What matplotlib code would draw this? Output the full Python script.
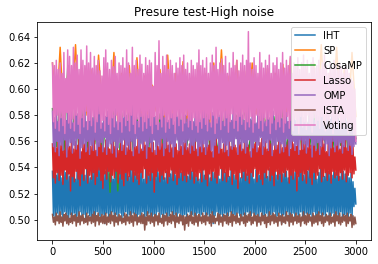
import numpy as np
import matplotlib
matplotlib.use("Agg")
import matplotlib.pyplot as plt

# 각 알고리즘 결과 (단위: 0.001), 0~2999 구간을 고르게 샘플링한 봉우리/골 값
ITERATIONS = 2999

IHT = [537,503, 541,501, 534,505, 545,502, 538,504, 532,500, 543,506, 536,503, 540,501, 533,504,
       544,502, 538,505, 531,500, 542,503, 536,506, 539,502, 546,504, 534,501, 540,505, 537,503,
       532,500, 543,504, 538,502, 535,506, 541,503, 546,501, 533,504, 539,497, 537,505, 542,502,
       535,503, 540,506, 531,501, 544,504, 538,502, 536,505, 541,500, 534,503, 539,506, 545,502,
       533,504, 538,501, 542,505, 536,503, 540,500, 534,504, 543,502, 537,506, 531,501, 539,503,
       544,505, 535,502, 540,500, 538,504, 533,503, 541,506, 536,501, 545,504, 539,502, 532,505,
       537,500, 542,503, 535,506, 540,502, 544,504, 534,501, 538,505, 541,503, 536,500, 543,504,
       539,502, 533,506, 540,501, 537,504, 542,503, 535,500, 538,505, 531,502, 536,504, 541,506,
       534,501, 545,504, 538,502, 532,505, 540,497, 536,503, 543,506, 537,501, 531,504, 539,502,
       542,505, 536,500, 540,503, 533,506, 545,502, 538,504, 534,501, 541,505, 537,503, 532,500,
       539,504, 544,502, 535,506, 540,501, 536,503, 543,505, 531,500, 538,504, 546,502, 534,506,
       540,501, 537,503, 542,505, 533,500, 539,504, 545,502, 536,506, 541,501, 534,503, 538,505,
       543,497, 535,504, 540,502, 537,506, 532,501, 544,503, 538,505, 536,500, 541,504, 533,502,
       539,506, 546,501, 534,503, 540,505, 537,500, 542,504, 535,502, 538,506, 544,501, 531,503,
       536,505, 541,500, 538,504, 533,502, 545,506, 537,501, 540,503, 534,505, 542,500, 536,504,
       539,502, 533,506, 541,501, 537,504, 535,503, 540,500, 532,505, 536,502, 529,510, 524,512]

SP = [620,578, 632,574, 612,582, 634,576, 608,580, 615,573, 626,584, 610,577, 628,575, 612,581,
      618,574, 624,579, 610,576, 603,583, 615,572, 626,578, 612,580, 621,575, 608,582, 618,577,
      612,574, 620,579, 630,576, 610,583, 622,573, 614,578, 620,581, 608,575, 616,579, 612,574,
      619,580, 624,576, 610,582, 615,573, 620,578, 634,575, 612,581, 632,577, 615,574, 628,579]

COSAMP = [585,556, 592,552, 618,560, 590,549, 584,555, 580,558, 587,550, 579,521, 586,522, 582,557,
          588,553, 578,559, 585,551, 590,556, 581,548, 576,560, 589,554, 583,557, 579,552, 586,561,
          582,555, 577,550, 588,558, 584,553, 580,562, 587,549, 576,556, 590,564, 583,551, 579,557,
          585,553, 581,560, 588,550, 578,556, 586,552, 582,559, 577,554, 589,557, 584,551, 580,562]

LASSO = [558,532, 562,528, 555,536, 564,530, 557,534, 561,527, 553,538, 566,531, 559,535, 556,522,
         563,533, 554,529, 560,537, 557,531, 565,526, 552,535, 561,530, 558,539, 555,528, 563,534,
         556,531, 560,536, 564,527, 553,533, 559,538, 562,530, 557,524, 555,535, 561,531, 566,537,
         554,529, 558,534, 563,532, 556,537, 560,528, 553,535, 565,531, 557,526, 561,536, 555,530,
         559,533, 564,538, 552,529, 560,534, 556,531, 562,527, 558,536, 554,532, 563,539, 557,528,
         561,534, 555,530, 565,536, 559,521, 553,533, 560,537, 556,529, 562,534, 558,531, 554,536,
         563,528, 557,533, 560,538, 555,530, 564,535, 558,527, 553,532, 561,536, 556,530, 559,534,
         562,529, 555,535, 558,531, 564,537, 557,528, 560,533, 554,530, 561,536, 556,529, 563,538,
         555,531, 560,526, 557,535, 563,530, 552,537, 559,532, 565,528, 556,534, 561,539, 554,530,
         558,536, 564,529, 553,533, 560,538, 556,527, 562,535, 557,531, 555,524, 563,536, 559,532,
         554,537, 561,530, 566,534, 557,528, 552,536, 560,533, 558,539, 563,529, 555,535, 559,531,
         562,527, 556,536, 560,532, 554,538, 565,530, 558,534, 553,526, 561,537, 557,531, 563,535,
         559,529, 555,536, 562,533, 557,538, 560,528, 554,534, 564,531, 558,537, 556,522, 561,533,
         553,536, 563,530, 558,535, 560,528, 555,538, 562,532, 557,527, 565,536, 559,531, 554,534,
         561,539, 556,529, 563,533, 558,536, 552,530, 560,535, 557,528, 564,537, 555,532, 559,534,
         562,530, 554,536, 560,531, 557,538, 563,529, 555,534, 561,536, 558,532, 556,535, 548,538]

OMP = [583,556, 578,552, 588,560, 575,549, 585,557, 579,553, 590,561, 576,548, 584,556, 580,559,
       587,551, 574,557, 589,554, 581,562, 577,547, 586,555, 579,558, 592,552, 575,560, 583,550,
       588,557, 578,553, 584,561, 576,549, 590,556, 581,559, 574,552, 586,563, 579,550, 583,556,
       577,558, 589,551, 580,560, 585,548, 575,555, 588,559, 582,553, 578,561, 586,550, 580,557,
       576,554, 584,560, 590,549, 579,556, 583,562, 575,551, 587,558, 581,553, 577,560, 585,547,
       580,556, 588,559, 576,552, 583,561, 579,550, 586,557, 574,554, 582,562, 589,549, 578,555,
       584,560, 576,552, 587,558, 581,548, 575,556, 583,561, 579,553, 588,557, 576,550, 585,559,
       580,554, 577,561, 586,551, 582,557, 575,553, 584,560, 579,549, 587,556, 576,552, 583,558,
       589,550, 578,556, 585,561, 574,553, 582,548, 590,557, 577,562, 584,551, 580,555, 586,559,
       575,552, 583,557, 588,549, 579,560, 576,554, 587,556, 581,562, 578,550, 585,558, 592,553,
       580,559, 576,551, 584,556, 589,561, 577,548, 582,555, 586,560, 574,552, 583,557, 579,563,
       588,550, 581,556, 575,559, 585,553, 578,561, 590,549, 583,557, 576,554, 587,560, 580,551,
       584,558, 577,552, 589,556, 582,562, 575,549, 586,555, 579,560, 583,553, 576,557, 588,550,
       581,561, 585,554, 578,558, 590,551, 574,556, 583,562, 587,548, 580,557, 576,553, 584,559,
       579,550, 588,556, 582,561, 575,553, 586,558, 580,549, 577,555, 589,560, 583,552, 578,557,
       585,554, 576,559, 584,551, 580,556, 587,561, 575,553, 582,557, 578,550, 574,556, 570,558]

ISTA = [504,498, 502,496, 505,499, 503,497, 506,498, 502,495, 504,499, 505,497, 503,496, 501,498,
        505,497, 503,499, 504,495, 502,498, 506,496, 503,499, 504,497, 501,498, 505,496, 503,499,
        502,497, 504,498, 506,495, 503,499, 505,496, 502,498, 504,497, 503,497, 505,496, 502,498,
        504,497, 506,499, 503,495, 505,498, 502,496, 504,499, 503,497, 501,498, 505,496, 504,499,
        502,497, 506,498, 503,495, 505,499, 504,496, 502,498, 503,497, 505,497, 504,492, 502,496,
        506,499, 503,497, 505,498, 502,495, 504,499, 503,496, 505,498, 501,497, 504,495, 503,499,
        505,496, 502,498, 504,497, 506,499, 503,494, 505,498, 502,497, 504,499, 503,496, 503,492,
        502,497, 504,495, 503,499, 506,497, 502,496, 505,498, 503,495, 504,499, 502,497, 505,498,
        503,496, 505,499, 502,497, 504,495, 506,498, 503,497, 501,499, 505,496, 504,498, 502,495,
        504,499, 503,497, 505,496, 502,498, 506,495, 504,499, 503,497, 505,498, 501,496, 504,499,
        502,497, 505,495, 503,498, 504,499, 506,496, 502,497, 505,499, 503,495, 504,498, 502,496,
        505,499, 503,497, 504,494, 502,498, 506,496, 503,499, 505,497, 504,498, 502,495, 505,499,
        503,496, 504,498, 502,497, 506,499, 503,495, 505,498, 504,496, 502,499, 505,497, 503,498,
        504,495, 502,499, 506,497, 503,496, 505,498, 504,499, 502,495, 505,497, 503,498, 504,496,
        506,499, 503,497, 505,495, 502,498, 504,499, 503,496, 505,497, 502,498, 504,495, 506,499,
        503,497, 505,496, 502,498, 504,499, 503,495, 505,497, 502,499, 504,494, 503,496, 502,497]

VOTING = [620,575, 618,570, 622,580, 615,568, 620,578, 612,572, 628,566, 608,582, 630,574, 625,570,
          618,577, 632,568, 620,580, 626,573, 615,566, 630,578, 622,571, 618,583, 633,569, 620,576,
          628,572, 616,579, 625,567, 618,575, 622,581, 614,570, 610,576, 624,568, 630,579, 620,573,
          615,566, 622,578, 617,571, 625,580, 612,569, 620,575, 618,567, 624,579, 616,572, 630,576,
          620,568, 612,580, 632,573, 618,566, 622,577, 615,571, 626,579, 619,568, 612,575, 624,570,
          618,578, 622,572, 620,566, 602,579, 628,573, 618,569, 637,577, 612,571, 625,580, 618,567,
          626,575, 615,570, 622,578, 618,573, 612,566, 620,579, 616,572, 624,577, 618,568, 626,574,
          615,580, 620,571, 612,576, 622,569, 618,578, 615,572, 620,567, 630,575, 618,570, 622,578,
          616,573, 624,568, 612,577, 620,571, 626,580, 618,566, 632,574, 615,579, 620,569, 623,576,
          618,572, 625,578, 612,567, 620,575, 616,581, 628,570, 618,576, 622,568, 614,579, 620,573,
          626,577, 618,569, 622,575, 644,571, 620,579, 615,567, 624,574, 618,580, 612,570, 628,576,
          620,568, 616,578, 622,572, 618,577, 626,566, 612,574, 620,580, 618,569, 624,575, 615,571,
          620,578, 628,567, 616,574, 622,579, 618,570, 625,576, 612,568, 620,577, 618,572, 624,566,
          615,579, 620,571, 626,575, 618,569, 622,580, 612,573, 620,567, 624,578, 616,572, 618,576,
          622,570, 615,579, 620,573, 626,568, 618,577, 612,571, 620,579, 616,566, 622,575, 618,572,
          614,578, 620,569, 616,575, 612,571, 618,578, 615,566, 612,573, 608,570, 606,565, 600,560]

LABELS = ["IHT", "SP", "CosaMP", "Lasso", "OMP", "ISTA", "Voting"]
SERIES = [IHT, SP, COSAMP, LASSO, OMP, ISTA, VOTING]


def main():
    # 촘촘한 지그재그가 단순화로 뭉개지지 않도록
    plt.rcParams["path.simplify"] = False
    fig = plt.figure(figsize=(378 / 72, 264 / 72), dpi=72)
    ax = fig.add_axes([0.0987, 0.0909, 0.8828, 0.8269])
    for name, vals in zip(LABELS, SERIES):
        y = np.array(vals) / 1000
        x = np.linspace(0, ITERATIONS, len(y))
        ax.plot(x, y, label=name, linewidth=1.5)
    ax.set_title("Presure test-High noise", fontsize=12)
    ax.tick_params(labelsize=10)
    ax.legend(loc="upper right", fontsize=10)
    fig.savefig("out.png", dpi=72)


if __name__ == "__main__":
    main()
